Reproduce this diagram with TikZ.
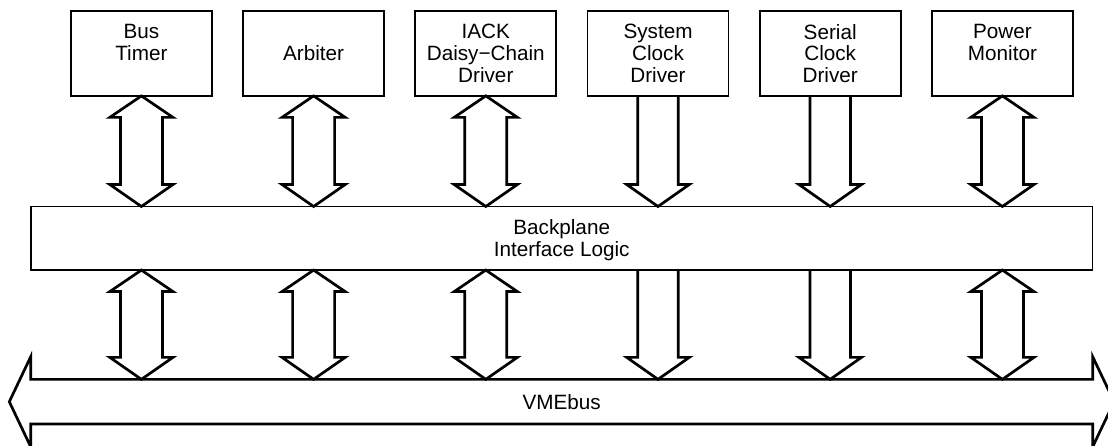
\documentclass[tikz,border=0pt]{standalone}
\usepackage{fontspec}
\setmainfont{Liberation Sans}
\usetikzlibrary{calc,positioning}

\tikzset{
  unit/.style={draw, line width=1.7pt, outer sep=0pt, inner sep=0pt,
               minimum width=141pt, minimum height=85pt, align=center},
  blk/.style={line width=2.7pt, line join=miter},
}
\newcommand\bothway[2]{%
  \draw[blk] let \p1=(#1), \p2=(#2) in
    (\x1,\y1) -- (\x1-31.6pt,\y1-21.5pt) -- (\x1-21pt,\y1-21.5pt)
    -- (\x1-21pt,\y2+22pt) -- (\x1-31.6pt,\y2+22pt) -- (\x2,\y2)
    -- (\x1+31.6pt,\y2+22pt) -- (\x1+21pt,\y2+22pt)
    -- (\x1+21pt,\y1-21.5pt) -- (\x1+31.6pt,\y1-21.5pt) -- cycle;}
\newcommand\oneway[2]{%
  \draw[blk] let \p1=(#1), \p2=(#2) in
    (\x1-20.2pt,\y1) -- (\x1-20.2pt,\y2+22pt) -- (\x1-31.3pt,\y2+22pt)
    -- (\x2,\y2) -- (\x1+31.3pt,\y2+22pt) -- (\x1+20.2pt,\y2+22pt)
    -- (\x1+20.2pt,\y1);}

\begin{document}
\begin{tikzpicture}[x=1pt,y=-1pt,font=\fontsize{20.7}{21.7}\selectfont]
                  \useasboundingbox (0,0) rectangle (1108,446);
                  \node[unit] (bt) at (141.4,53.4) {Bus\\Timer\\\mbox{}};
                  \node[unit, right=31.2pt of bt] (arb) {Arbiter};
                  \node[unit, right=31.2pt of arb] (iack) {IACK\\Daisy−Chain\\Driver};
                  \node[unit, right=31.2pt of iack] (sysclk) {System\\Clock\\Driver};
                  \node[unit, right=31.2pt of sysclk] (serclk) {Serial\\Clock\\Driver};
                  \node[unit, right=31.2pt of serclk] (pwr) {Power\\Monitor\\\mbox{}};
                  \node[draw, line width=1.7pt, outer sep=0pt, minimum width=1061.6pt,
                        minimum height=63.6pt, align=center] (bp) at (561.7,238.3)
                        {Backplane\\\smash{Interface Logic}};
                  \node[minimum width=1062pt, minimum height=44.7pt, outer sep=0pt]
                        (vme) at (561.7,401.7) {VMEbus};
                  \draw[blk] (vme.north west) -- (vme.north east) -- ++(0,-22.6)
                        -- ++(21.4,45) -- ++(-21.4,45) -- (vme.south east)
                        -- (vme.south west) -- ++(0,22.7) -- ++(-21.4,-45)
                        -- ++(21.4,-45) -- cycle;
                  \bothway{bt.south}{bt.south |- bp.north}
                  \bothway{arb.south}{arb.south |- bp.north}
                  \bothway{iack.south}{iack.south |- bp.north}
                  \oneway{sysclk.south}{sysclk.south |- bp.north}
                  \oneway{serclk.south}{serclk.south |- bp.north}
                  \bothway{pwr.south}{pwr.south |- bp.north}
                  \bothway{bt.south |- bp.south}{bt.south |- vme.north}
                  \bothway{arb.south |- bp.south}{arb.south |- vme.north}
                  \bothway{iack.south |- bp.south}{iack.south |- vme.north}
                  \oneway{sysclk.south |- bp.south}{sysclk.south |- vme.north}
                  \oneway{serclk.south |- bp.south}{serclk.south |- vme.north}
                  \bothway{pwr.south |- bp.south}{pwr.south |- vme.north}
              \end{tikzpicture}
\end{document}
